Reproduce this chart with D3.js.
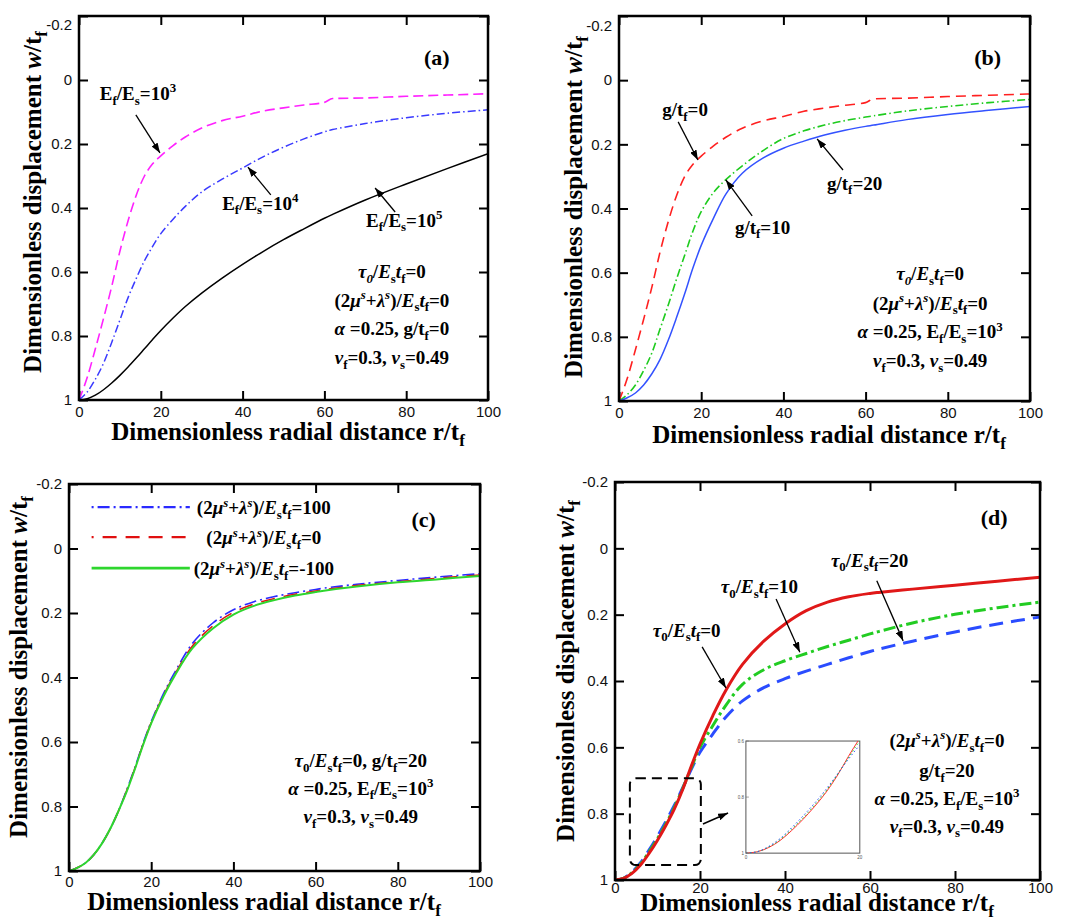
<!DOCTYPE html>
<html><head><meta charset="utf-8">
<script src="https://cdn.jsdelivr.net/npm/d3@7"></script>
<style>body{margin:0;background:#fff;} svg{display:block;} text{white-space:pre;}</style>
</head><body>
<svg id="chart" width="1067" height="920"></svg>
<script>
// ---------------- data ----------------
const rGrid  = [0,2,4,6,8,10,12,14,16,18,20,23,26,30,35,40,45,50,55,60,62,70,80,90,100];
const xTicks = [0,20,40,60,80,100];
const yTicks = [-0.2,0,0.2,0.4,0.6,0.8,1];
const insetXTicks = [0,20];
const insetYTicks = [0.6,0.8,1];

// (a) Ef/Es = 10^3, 10^4, 10^5
const wA_E3 = [1,0.93,0.84,0.745,0.645,0.535,0.44,0.36,0.30,0.262,0.237,0.205,0.178,0.15,0.127,0.113,0.097,0.087,0.078,0.07,0.058,0.056,0.051,0.047,0.043];
const wA_E4 = [1,0.975,0.935,0.885,0.82,0.75,0.68,0.62,0.565,0.52,0.48,0.435,0.395,0.35,0.31,0.275,0.24,0.21,0.184,0.162,0.155,0.136,0.118,0.104,0.093];
const wA_E5 = [1,0.996,0.985,0.968,0.947,0.923,0.897,0.869,0.84,0.811,0.783,0.744,0.708,0.666,0.619,0.576,0.536,0.499,0.465,0.432,0.42,0.375,0.325,0.277,0.23];
// (b) g/tf = 0, 10, 20
const wB_g0  = [1,0.93,0.84,0.745,0.645,0.535,0.44,0.36,0.30,0.262,0.237,0.205,0.178,0.15,0.127,0.113,0.097,0.087,0.078,0.07,0.058,0.056,0.051,0.047,0.043];
const wB_g10 = [1,0.98,0.95,0.905,0.85,0.775,0.70,0.62,0.545,0.47,0.41,0.35,0.31,0.267,0.22,0.182,0.158,0.14,0.126,0.115,0.111,0.096,0.082,0.07,0.06];
const wB_g20 = [1,0.99,0.975,0.95,0.915,0.87,0.81,0.74,0.665,0.585,0.515,0.43,0.355,0.29,0.243,0.212,0.19,0.171,0.156,0.144,0.14,0.123,0.107,0.094,0.082];
// (c) (2mu+lambda)/Es tf = 100, 0, -100
const wC_p100 = [1,0.99,0.975,0.95,0.915,0.87,0.815,0.75,0.68,0.605,0.537,0.45,0.378,0.295,0.231,0.19,0.165,0.149,0.137,0.127,0.123,0.111,0.099,0.088,0.078];
const wC_p0   = [1,0.99,0.975,0.95,0.915,0.87,0.815,0.752,0.683,0.608,0.54,0.455,0.384,0.303,0.24,0.198,0.172,0.155,0.142,0.132,0.128,0.115,0.103,0.092,0.082];
const wC_m100 = [1,0.99,0.975,0.95,0.915,0.87,0.815,0.755,0.685,0.61,0.542,0.458,0.388,0.31,0.248,0.205,0.178,0.16,0.146,0.135,0.131,0.118,0.105,0.095,0.085];
// (d) tau0/Es tf = 0, 10, 20
const wD_t0  = [1,0.995,0.98,0.955,0.92,0.88,0.835,0.785,0.725,0.655,0.59,0.505,0.43,0.35,0.28,0.228,0.188,0.162,0.146,0.136,0.133,0.123,0.111,0.099,0.087];
const wD_t10 = [1,0.995,0.978,0.952,0.915,0.875,0.83,0.78,0.722,0.66,0.6,0.535,0.475,0.41,0.366,0.339,0.317,0.296,0.277,0.258,0.251,0.225,0.199,0.179,0.162];
const wD_t20 = [1,0.995,0.976,0.948,0.91,0.868,0.823,0.774,0.72,0.665,0.615,0.56,0.51,0.46,0.42,0.393,0.37,0.35,0.33,0.311,0.304,0.28,0.252,0.228,0.207];

// ---------------- text strings ----------------
const xTitle = "Dimensionless radial distance r/t_{f}";
const yTitle = "Dimensionless displacement *w*/t_{f}";
const sLine = "(2*μ*^{*s*}+*λ*^{*s*})/*E*_{s}*t*_{f}=";
const tauLine = "*τ*_{*0*}/*E*_{s}*t*_{f}=";
const nuLine = "*ν*_{f}=0.3, *ν*_{s}=0.49";

// ---------------- styles / layout ----------------
const SERIF = "'Liberation Serif','Times New Roman',serif";
const SANS = "'Liberation Sans',Arial,sans-serif";

const panels = [
 { id:'a', box:[79,16,488,400], yTitle:{x:41,y:202}, xTitle:{x:288,y:440}, topShift:9, tickPad:6,
   letter:{t:'(a)', r:87.5, v:-0.047},
   series:[
     {w:wA_E3, color:'#ff22ff', sw:1.6, dash:'10,5', mono:true},
     {w:wA_E4, color:'#3a3aff', sw:1.5, dash:'8,3,1.5,3'},
     {w:wA_E5, color:'#000', sw:1.5, dash:null}],
   labels:[
     {t:'E_{f}/E_{s}=10^{3}', r:5.1, v:0.0625, tail:[13.9,0.109], tip:[19.8,0.228]},
     {t:'E_{f}/E_{s}=10^{4}', r:35, v:0.406, tail:[46.9,0.359], tip:[41.3,0.272]},
     {t:'E_{f}/E_{s}=10^{5}', r:70.2, v:0.459, tail:[77.3,0.4125], tip:[72.4,0.3375]}],
   params:{r:76.5, vs:[0.619,0.709,0.797,0.8875],
     lines:[tauLine+'0', sLine+'0', '*α* =0.25, g/t_{f}=0', nuLine]} },
 { id:'b', box:[619,16,1030,401], yTitle:{x:582,y:207}, xTitle:{x:829,y:443}, topShift:10, tickPad:6,
   letter:{t:'(b)', r:89.7, v:-0.047},
   series:[
     {w:wB_g0, color:'#ff2020', sw:1.6, dash:'10,6', mono:true},
     {w:wB_g10, color:'#1ecb1e', sw:1.6, dash:'8,3,1.5,3'},
     {w:wB_g20, color:'#3352ff', sw:1.5, dash:null}],
   labels:[
     {t:'g/t_{f}=0', r:10.5, v:0.112, tail:[14.4,0.13], tip:[19.2,0.249]},
     {t:'g/t_{f}=10', r:28.2, v:0.479, tail:[32.4,0.423], tip:[26.0,0.311]},
     {t:'g/t_{f}=20', r:50.6, v:0.342, tail:[54.5,0.28], tip:[48.2,0.183]}],
   params:{r:75.7, vs:[0.623,0.716,0.804,0.894],
     lines:[tauLine+'0', sLine+'0', '*α* =0.25, E_{f}/E_{s}=10^{3}', nuLine]} },
 { id:'c', box:[69,484,480,871], yTitle:{x:27,y:667}, xTitle:{x:264,y:910}, topShift:0, tickPad:5,
   letter:{t:'(c)', r:86.3, v:-0.067},
   series:[
     {w:wC_p100, color:'#2a2aff', sw:1.6, dash:'12,4,2,4', legOff:16},
     {w:wC_p0, color:'#e01010', sw:1.6, dash:'14,9', legOff:12},
     {w:wC_m100, color:'#2ed62e', sw:2, dash:null, legOff:0}],
   legend:{r0:5.5, r1:29.4, rt:47.4, vs:[-0.128,-0.035,0.061],
     texts:[sLine+'100', sLine+'0', sLine+'-100']},
   labels:[],
   params:{r:71, vs:[0.678,0.764,0.851],
     lines:['*τ*_{0}/*E*_{s}*t*_{f}=0, g/t_{f}=20', '*α* =0.25, E_{f}/E_{s}=10^{3}', nuLine]} },
 { id:'d', box:[615,482,1040,880], yTitle:{x:574,y:671}, xTitle:{x:817,y:911}, topShift:0, tickPad:2,
   letter:{t:'(d)', r:89.2, v:-0.07},
   series:[
     {w:wD_t20, color:'#2a4cff', sw:3, dash:'14,8'},
     {w:wD_t10, color:'#22cc22', sw:3, dash:'12,4,3,4'},
     {w:wD_t0, color:'#e01818', sw:3, dash:null}],
   labels:[
     {t:'*τ*_{0}/*E*_{s}*t*_{f}=20', r:50.8, v:0.056, tail:[61.6,0.098], tip:[67.8,0.279]},
     {t:'*τ*_{0}/*E*_{s}*t*_{f}=10', r:24.9, v:0.135, tail:[37.9,0.153], tip:[43.5,0.313]},
     {t:'*τ*_{0}/*E*_{s}*t*_{f}=0', r:8.9, v:0.267, tail:[20.5,0.297], tip:[26.1,0.421]}],
   zoomRect:{r0:3.5, r1:20.2, v0:0.693, v1:0.955, tail:[20.7,0.831], tip:[26.6,0.798]},
   inset:{r0:30.8, r1:57.6, v0:0.581, v1:0.919},
   params:{r:78.1, vs:[0.599,0.69,0.774,0.858],
     lines:[sLine+'0', 'g/t_{f}=20', '*α* =0.25, E_{f}/E_{s}=10^{3}', nuLine]} }
];

// ---------------- helpers ----------------
const svg = d3.select('#chart');
const defs = svg.append('defs');
defs.append('marker').attr('id','ah').attr('viewBox','0 0 10 7')
  .attr('refX',10).attr('refY',3.5).attr('markerWidth',10).attr('markerHeight',7)
  .attr('markerUnits','userSpaceOnUse').attr('orient','auto')
  .append('path').attr('d','M0,0L10,3.5L0,7z').attr('fill','#000');

function rich(sel, str, size){
  const runs=[]; let it=false, lv=0, buf='';
  const push=()=>{ if(buf){runs.push({t:buf,it,lv}); buf='';} };
  for(let i=0;i<str.length;i++){
    const c=str[i];
    if(c==='*'){push(); it=!it;}
    else if((c==='_'||c==='^')&&str[i+1]==='{'){push(); lv=c==='_'?1:2; i++;}
    else if(c==='}'&&lv){push(); lv=0;}
    else buf+=c;
  }
  push();
  let cur=0;
  runs.forEach(r=>{
    const target = r.lv===1 ? 0.24*size : r.lv===2 ? -0.4*size : 0;
    sel.append('tspan').attr('dy', target-cur)
      .attr('font-size', r.lv ? size*0.68 : size)
      .attr('font-style', r.it ? 'italic':'normal').text(r.t);
    cur=target;
  });
  return sel;
}
function addText(g, x, y, str, size, anchor, transform){
  const t = g.append('text').attr('x',x).attr('y',y).attr('text-anchor',anchor||'middle')
    .attr('font-family',SERIF).attr('font-weight','bold').attr('font-size',size).attr('fill','#000');
  if(transform) t.attr('transform',transform);
  rich(t, str, size);
  return t;
}
const fmt = d => String(Math.round(d*10)/10);

// ---------------- draw ----------------
panels.forEach(p=>{
  const [L,T,R,B]=p.box;
  const x=d3.scaleLinear().domain([0,100]).range([L,R]);
  const y=d3.scaleLinear().domain([-0.2,1]).range([T,B]);
  const g=svg.append('g');
  defs.append('clipPath').attr('id','clip-'+p.id).append('rect')
    .attr('x',L).attr('y',T).attr('width',R-L).attr('height',B-T);

  const styleAxis = a => { a.select('.domain').remove();
    a.selectAll('.tick line').attr('stroke','#000').attr('stroke-width',2);
    a.selectAll('.tick text').attr('font-family',SANS).attr('font-size',15).attr('fill','#111'); };
  g.append('g').attr('transform',`translate(0,${B})`)
    .call(d3.axisBottom(x).tickValues(xTicks).tickSize(-9).tickPadding(p.tickPad).tickFormat(fmt)).call(styleAxis);
  g.append('g').attr('transform',`translate(0,${T})`)
    .call(d3.axisTop(x).tickValues(xTicks).tickSize(-9).tickFormat('')).call(styleAxis);
  const la = g.append('g').attr('transform',`translate(${L},0)`)
    .call(d3.axisLeft(y).tickValues(yTicks).tickSize(-9).tickPadding(7).tickFormat(fmt)).call(styleAxis);
  la.selectAll('.tick text').filter(d=>d===-0.2).attr('transform',`translate(0,${p.topShift})`);
  g.append('g').attr('transform',`translate(${R},0)`)
    .call(d3.axisRight(y).tickValues(yTicks).tickSize(-9).tickFormat('')).call(styleAxis);

  // curves
  const cg=g.append('g').attr('clip-path',`url(#clip-${p.id})`);
  p.series.forEach(s=>{
    const line=d3.line().x((d,i)=>x(rGrid[i])).y(d=>y(d))
      .curve(s.mono ? d3.curveMonotoneX : d3.curveCatmullRom.alpha(0.5));
    cg.append('path').datum(s.w).attr('d',line).attr('fill','none')
      .attr('stroke',s.color).attr('stroke-width',s.sw)
      .attr('stroke-dasharray',s.dash||null).attr('stroke-linejoin','round');
  });

  // frame
  g.append('rect').attr('x',L).attr('y',T).attr('width',R-L).attr('height',B-T)
    .attr('fill','none').attr('stroke','#000').attr('stroke-width',2.5);

  // titles
  addText(g, p.xTitle.x, p.xTitle.y, xTitle, 25, 'middle');
  addText(g, 0, 0, yTitle, 25, 'middle', `translate(${p.yTitle.x},${p.yTitle.y}) rotate(-90)`);
  addText(g, x(p.letter.r), y(p.letter.v), p.letter.t, 22, 'middle');

  // labels with arrows
  p.labels.forEach(l=>{
    addText(g, x(l.r), y(l.v), l.t, 19, 'start');
    g.append('line').attr('x1',x(l.tail[0])).attr('y1',y(l.tail[1]))
      .attr('x2',x(l.tip[0])).attr('y2',y(l.tip[1]))
      .attr('stroke','#000').attr('stroke-width',1.3).attr('marker-end','url(#ah)');
  });

  // params block
  p.params.lines.forEach((s,i)=> addText(g, x(p.params.r), y(p.params.vs[i]), s, 19, 'middle'));

  // legend (c)
  if(p.legend){
    p.legend.vs.forEach((v,i)=>{
      const s=p.series[i];
      g.append('line').attr('x1',x(p.legend.r0)).attr('x2',x(p.legend.r1))
        .attr('y1',y(v)).attr('y2',y(v)).attr('stroke',s.color).attr('stroke-width',s.sw+0.6)
        .attr('stroke-dasharray',s.dash||null).attr('stroke-dashoffset',s.legOff||0);
      addText(g, x(p.legend.rt), y(v)+7, p.legend.texts[i], 19, 'middle');
    });
  }

  // zoom rectangle + inset (d)
  if(p.zoomRect){
    const z=p.zoomRect;
    g.append('rect').attr('x',x(z.r0)).attr('y',y(z.v0)).attr('width',x(z.r1)-x(z.r0))
      .attr('height',y(z.v1)-y(z.v0)).attr('rx',6).attr('fill','none')
      .attr('stroke','#000').attr('stroke-width',2).attr('stroke-dasharray','10,6');
    g.append('line').attr('x1',x(z.tail[0])).attr('y1',y(z.tail[1]))
      .attr('x2',x(z.tip[0])).attr('y2',y(z.tip[1]))
      .attr('stroke','#000').attr('stroke-width',1.5).attr('marker-end','url(#ah)');
  }
  if(p.inset){
    const q=p.inset;
    const iL=x(q.r0), iR=x(q.r1), iT=y(q.v0), iB=y(q.v1);
    const ix=d3.scaleLinear().domain([0,20]).range([iL,iR]);
    const iy=d3.scaleLinear().domain([0.6,1]).range([iT,iB]);
    defs.append('clipPath').attr('id','clip-inset').append('rect')
      .attr('x',iL).attr('y',iT).attr('width',iR-iL).attr('height',iB-iT);
    g.append('rect').attr('x',iL).attr('y',iT).attr('width',iR-iL).attr('height',iB-iT)
      .attr('fill','#fff').attr('stroke','#555').attr('stroke-width',1);
    const il=d3.line().x((d,i)=>ix(rGrid[i])).y(d=>iy(d)).curve(d3.curveCatmullRom.alpha(0.5));
    const ig=g.append('g').attr('clip-path','url(#clip-inset)');
    [{w:wD_t0,c:'#ff3030',dash:null},{w:wD_t10,c:'#22cc22',dash:'1.5,2.5'},{w:wD_t20,c:'#3355ff',dash:'1.5,2.5'}]
      .forEach(s=> ig.append('path').datum(s.w).attr('d',il).attr('fill','none')
        .attr('stroke',s.c).attr('stroke-width',1).attr('stroke-dasharray',s.dash));
    insetYTicks.forEach(v=> g.append('text').attr('x',iL-2).attr('y',iy(v)+1.5).attr('text-anchor','end')
      .attr('font-family',SANS).attr('font-size',4.5).attr('fill','#555').text(fmt(v)));
    insetXTicks.forEach(v=> g.append('text').attr('x',ix(v)).attr('y',iB+6).attr('text-anchor','middle')
      .attr('font-family',SANS).attr('font-size',4.5).attr('fill','#555').text(fmt(v)));
    g.selectAll(null).data(insetYTicks).enter().append('line')
      .attr('x1',iL).attr('x2',iL+3).attr('y1',d=>iy(d)).attr('y2',d=>iy(d)).attr('stroke','#666').attr('stroke-width',0.6);
  }
});
</script>
</body></html>
